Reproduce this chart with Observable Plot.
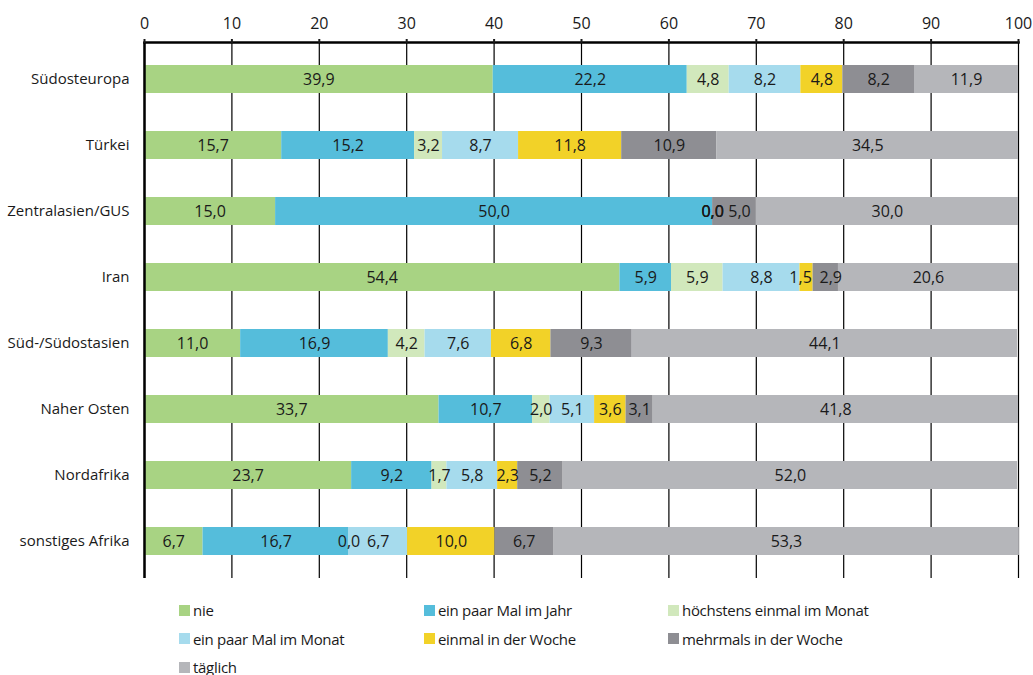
<!DOCTYPE html>
<html>
<head>
<meta charset="utf-8">
<script src="https://cdn.jsdelivr.net/npm/d3@7"></script>
<script src="https://cdn.jsdelivr.net/npm/@observablehq/plot@0.6"></script>
<style>
  body { margin: 0; background: #fff; font-family: "Open Sans", sans-serif; color: #1a1a1a; }
  #wrap { position: relative; width: 1033px; height: 675px; }
  #legend { position: absolute; left: 179px; top: 600px; display: grid;
    grid-template-columns: 245px 244px 300px; grid-auto-rows: 28.5px; font-size: 15px; letter-spacing: -0.3px; }
  .item { display: flex; align-items: center; height: 20px; }
  .sw { width: 11px; height: 11px; margin-right: 3px; flex: none; }
</style>
</head>
<body>
<div id="wrap"><div id="chart"></div><div id="legend"></div></div>
<script>
const categories = ["Südosteuropa", "Türkei", "Zentralasien/GUS", "Iran", "Süd-/Südostasien", "Naher Osten", "Nordafrika", "sonstiges Afrika"];
const seriesNames = ["nie", "ein paar Mal im Jahr", "höchstens einmal im Monat", "ein paar Mal im Monat", "einmal in der Woche", "mehrmals in der Woche", "täglich"];
const seriesColors = ["#a8d383", "#55bddb", "#d1e8bc", "#a6dbed", "#f2d228", "#8e8e93", "#b5b6ba"];
// values per category, in series order
const nie          = [39.9, 15.7, 15.0, 54.4, 11.0, 33.7, 23.7, 6.7];
const paarJahr     = [22.2, 15.2, 50.0, 5.9, 16.9, 10.7, 9.2, 16.7];
const hoechstMonat = [4.8, 3.2, 0.0, 5.9, 4.2, 2.0, 1.7, 0.0];
const paarMonat    = [8.2, 8.7, 0.0, 8.8, 7.6, 5.1, 5.8, 6.7];
const einmalWoche  = [4.8, 11.8, 0.0, 1.5, 6.8, 3.6, 2.3, 10.0];
const mehrWoche    = [8.2, 10.9, 5.0, 2.9, 9.3, 3.1, 5.2, 6.7];
const taeglich     = [11.9, 34.5, 30.0, 20.6, 44.1, 41.8, 52.0, 53.3];
const xTicks = [0, 10, 20, 30, 40, 50, 60, 70, 80, 90, 100];

const seriesValues = [nie, paarJahr, hoechstMonat, paarMonat, einmalWoche, mehrWoche, taeglich];
const data = [];
categories.forEach((c, i) => {
  seriesNames.forEach((s, j) => data.push({cat: c, series: s, value: seriesValues[j][i]}));
});
const fmt = v => v.toFixed(1).replace(".", ",");

// labels nudged apart where two narrow segments sit side by side (as in the reference)
const shiftLeft = d => d.cat === "Iran" && d.series === "einmal in der Woche";
const shiftRight = d => (d.cat === "Iran" || d.cat === "Zentralasien/GUS") && d.series === "mehrmals in der Woche";
const labelOpts = extra => Plot.stackX({x: "value", y: "cat", z: "series", text: d => fmt(d.value), fill: "#1a1a1a", fontSize: 16, ...extra});

const chart = Plot.plot({
  width: 1033,
  height: 590,
  marginTop: 42,
  marginLeft: 144,
  marginRight: 15,
  marginBottom: 12,
  style: {fontFamily: "Open Sans, sans-serif", fontSize: "15px", color: "#1a1a1a", background: "white"},
  x: {domain: [0, 100], ticks: xTicks, tickFormat: d => d},
  y: {domain: categories, paddingInner: 0.577, paddingOuter: 0.34, label: null},
  color: {domain: seriesNames, range: seriesColors},
  marks: [
    Plot.gridX(xTicks, {stroke: "#000", strokeOpacity: 1, strokeWidth: 1.2}),
    Plot.barX(data, Plot.stackX({x: "value", y: "cat", fill: "series", z: "series", inset: 0})),
    Plot.text(data, Plot.filter(d => !shiftLeft(d) && !shiftRight(d), labelOpts({}))),
    Plot.text(data, Plot.filter(shiftLeft, labelOpts({dx: -6}))),
    Plot.text(data, Plot.filter(shiftRight, labelOpts({dx: 5}))),
    Plot.ruleX([0], {stroke: "#000", strokeWidth: 2.5}),
    Plot.frame({anchor: "top", stroke: "#000", strokeWidth: 2.5}),
    Plot.axisX({anchor: "top", ticks: xTicks, tickSize: 4, tickPadding: 10, strokeWidth: 2, fontSize: 16, label: null, tickFormat: d => d}),
    Plot.axisY({anchor: "left", tickSize: 0, tickPadding: 15, fontSize: 15, label: null})
  ]
});
document.getElementById("chart").appendChild(chart);

const legend = document.getElementById("legend");
seriesNames.forEach((name, j) => {
  const it = document.createElement("div");
  it.className = "item";
  const sw = document.createElement("span");
  sw.className = "sw";
  sw.style.background = seriesColors[j];
  const t = document.createElement("span");
  t.textContent = name;
  it.appendChild(sw); it.appendChild(t);
  legend.appendChild(it);
});
</script>
</body>
</html>
